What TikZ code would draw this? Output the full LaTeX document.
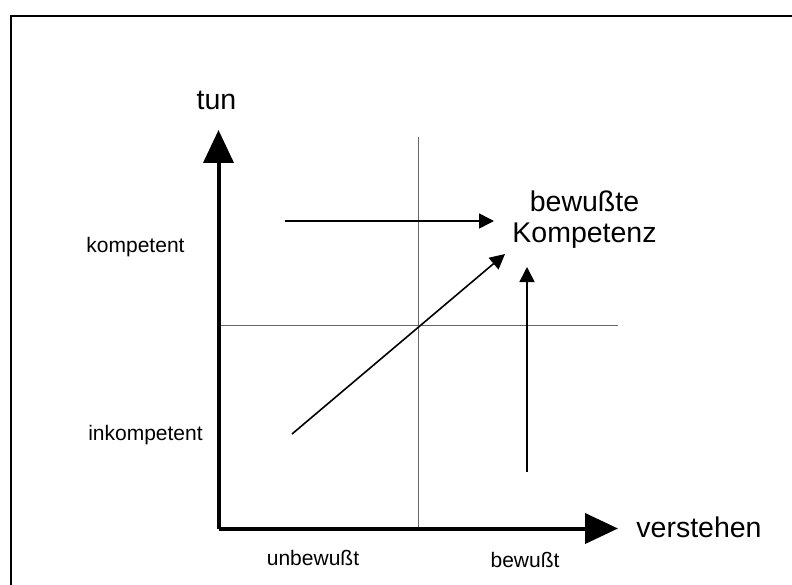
\documentclass[tikz,border=0pt]{standalone}
\usepackage{fontspec}
\setmainfont{Liberation Sans}
\usetikzlibrary{arrows.meta}
\begin{document}
\begin{tikzpicture}[x=1pt,y=-1pt,
  axis/.style={line width=4pt,-{Triangle[length=33pt,width=30pt]}},
  thinarrow/.style={line width=1.6pt,-{Triangle[length=15pt,width=15pt]}},
  gridline/.style={line width=0.8pt,draw=black!60},
  biglabel/.style={font=\fontsize{28.5}{31}\selectfont,inner sep=0pt,anchor=base},
  smalllabel/.style={font=\fontsize{21}{23}\selectfont,inner sep=0pt},
]
\useasboundingbox (0,0) rectangle (792,585);
\begin{scope}
\clip (0,0) rectangle (792,585);
\draw[line width=2pt] (10.5,16) rectangle (810,610);
\end{scope}
% coordinates
\coordinate (O) at (218.5,528.5);
\coordinate (Ytip) at (218.5,130);
\coordinate (Xtip) at (618,528.5);
\coordinate (vtop) at (418,137);
\coordinate (vbot) at (418,528.5);
\coordinate (hleft) at (218.5,325);
\coordinate (hright) at (618,325);
\coordinate (h1) at (285,221);
\coordinate (h2) at (494,221);
\coordinate (d1) at (292,434);
\coordinate (d2) at (505,254);
\coordinate (v1) at (527,472);
\coordinate (v2) at (527,267);
% grid lines
\draw[gridline] (vtop) -- (vbot);
\draw[gridline] (hleft) -- (hright);
% axes
\draw[axis] (O) -- (Ytip);
\draw[axis] (O) -- (Xtip);
% arrows
\draw[thinarrow] (h1) -- (h2);
\draw[thinarrow] (d1) -- (d2);
\draw[thinarrow] (v1) -- (v2);
% labels
\node[biglabel] (tun) at (216.5,110) {tun};
\node[biglabel] (verstehen) at (699,537) {verstehen};
\node[biglabel] (bew) at (584.5,212) {bewußte};
\node[biglabel] (komp) at (584.5,243) {Kompetenz};
\node[smalllabel] (kompetent) at (135.5,247) {kompetent};
\node[smalllabel] (inkompetent) at (145.5,435) {inkompetent};
\node[smalllabel] (unbewusst) at (313,558) {unbewußt};
\node[smalllabel] (bewusst) at (525,560) {bewußt};
\end{tikzpicture}
\end{document}
